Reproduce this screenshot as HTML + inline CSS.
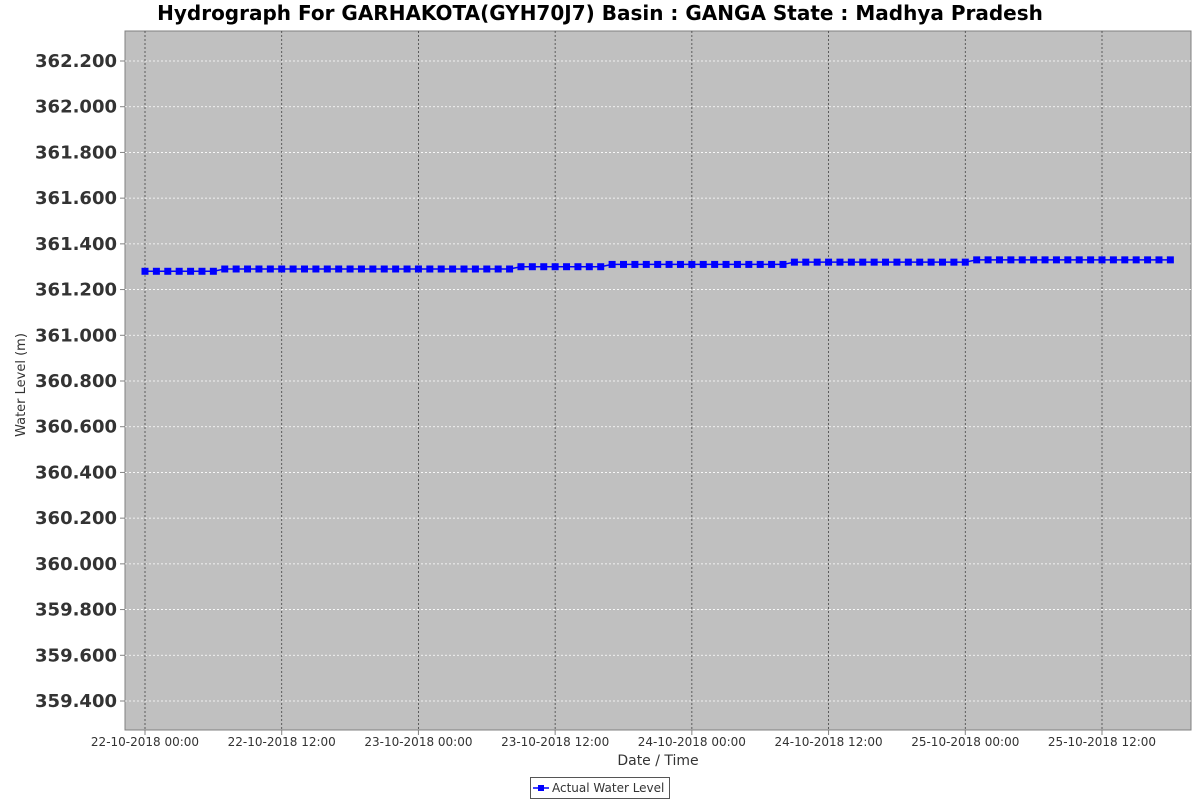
<!DOCTYPE html>
<html><head><meta charset="utf-8"><style>
body{margin:0;background:#fff;width:1200px;height:800px;overflow:hidden}
svg text{font-family:"DejaVu Sans","Liberation Sans",sans-serif}
</style></head><body>
<svg id="c" width="1200" height="800">
<text x="600" y="20" text-anchor="middle" font-size="20" font-weight="bold" fill="#000">Hydrograph For GARHAKOTA(GYH70J7) Basin : GANGA State : Madhya Pradesh</text>
<rect x="125" y="31" width="1066" height="699" fill="#c0c0c0" stroke="#808080"/>
<g id="grid"></g><g id="series"></g><g id="axes"></g>
<text x="25" y="385" transform="rotate(-90 25 385)" text-anchor="middle" font-size="13" fill="#333">Water Level (m)</text>
<text x="658" y="765" text-anchor="middle" font-size="14" fill="#333">Date / Time</text>
<g>
<rect x="530.5" y="777.5" width="139" height="21" fill="#fff" stroke="#555"/>
<line x1="533" y1="788" x2="549" y2="788" stroke="#0000ff" stroke-width="1.5"/>
<rect x="538" y="785" width="6" height="6" fill="#0000ff"/>
<text x="552" y="792" font-size="12" fill="#333">Actual Water Level</text>
</g>
</svg>
<script>
const yTicks=[359.4,359.6,359.8,360.0,360.2,360.4,360.6,360.8,361.0,361.2,361.4,361.6,361.8,362.0,362.2];
const xTickHours=[0,12,24,36,48,60,72,84];
const xTickLabels=["22-10-2018 00:00","22-10-2018 12:00","23-10-2018 00:00","23-10-2018 12:00","24-10-2018 00:00","24-10-2018 12:00","25-10-2018 00:00","25-10-2018 12:00"];
const levels=[
361.28,361.28,361.28,361.28,361.28,361.28,361.28,
361.29,361.29,361.29,361.29,361.29,361.29,361.29,361.29,361.29,361.29,361.29,361.29,361.29,361.29,361.29,361.29,361.29,361.29,361.29,361.29,361.29,361.29,361.29,361.29,361.29,361.29,
361.30,361.30,361.30,361.30,361.30,361.30,361.30,361.30,
361.31,361.31,361.31,361.31,361.31,361.31,361.31,361.31,361.31,361.31,361.31,361.31,361.31,361.31,361.31,361.31,
361.32,361.32,361.32,361.32,361.32,361.32,361.32,361.32,361.32,361.32,361.32,361.32,361.32,361.32,361.32,361.32,
361.33,361.33,361.33,361.33,361.33,361.33,361.33,361.33,361.33,361.33,361.33,361.33,361.33,361.33,361.33,361.33,361.33,361.33];
const NS="http://www.w3.org/2000/svg";
const X=h=>145+h*(1102-145)/84;
const Y=v=>61+(362.2-v)*(640/2.8);
function mk(t,a,p){const e=document.createElementNS(NS,t);for(const k in a)e.setAttribute(k,a[k]);p.appendChild(e);return e;}
const grid=document.getElementById('grid'),axes=document.getElementById('axes'),ser=document.getElementById('series');
yTicks.forEach(v=>{const y=Y(v);
const g=mk('line',{x1:125,x2:1191,y1:y,y2:y,stroke:'#fff','stroke-width':0.8,'stroke-dasharray':'2,2'},grid);


mk('line',{x1:120,x2:125,y1:y,y2:y,stroke:'#808080'},axes);
const t=mk('text',{x:117,y:y+6,'text-anchor':'end','font-size':18,'font-weight':'bold',fill:'#333'},axes);
t.textContent=v.toFixed(3);

});
xTickHours.forEach((h,i)=>{const x=X(h);
const g=mk('line',{x1:x,x2:x,y1:31,y2:730,stroke:'#444','stroke-width':0.8,'stroke-dasharray':'2,2'},grid);


mk('line',{x1:x,x2:x,y1:730,y2:735,stroke:'#808080'},axes);
const t=mk('text',{x:x,y:746,'text-anchor':'middle','font-size':12,fill:'#333'},axes);
t.textContent=xTickLabels[i];

});
const pl=mk('polyline',{points:levels.map((v,i)=>X(i)+','+Y(v)).join(' '),fill:'none',stroke:'#0000ff','stroke-width':1.5},ser);


levels.forEach((v,i)=>{const r=mk('rect',{x:X(i)-3.5,y:Y(v)-3.5,width:7,height:7,fill:'#0000ff'},ser);

});
</script>
</body></html>
